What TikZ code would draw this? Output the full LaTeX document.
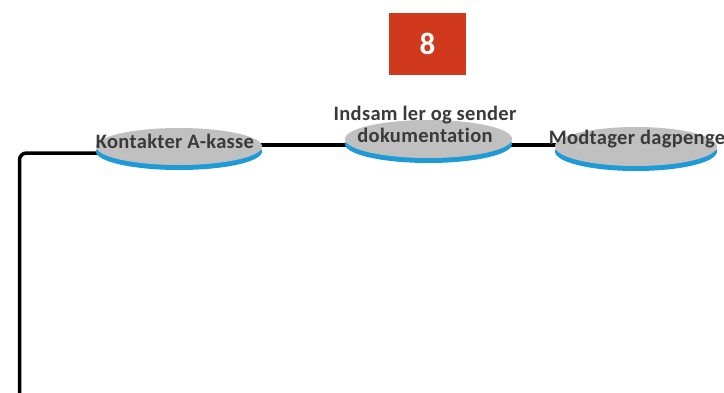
\documentclass[tikz,border=0pt]{standalone}
\usepackage{fontspec}
\setmainfont{Carlito}
\newfontfamily\ovalfont{Carlito}[LetterSpace=1.5, Ligatures=NoCommon]
\usetikzlibrary{shapes.geometric,backgrounds,calc}
\definecolor{boxred}{RGB}{208,57,27}
\definecolor{ovalgray}{RGB}{192,192,192}
\definecolor{ovalblue}{RGB}{30,154,214}
\definecolor{labelink}{RGB}{58,58,58}

\begin{document}
\begin{tikzpicture}[x=1pt,y=-1pt,
  oval/.style={ellipse, fill=ovalgray, inner sep=0pt,
    preaction={fill=ovalblue, transform canvas={yshift=-5pt}}},
  caption/.style={font=\ovalfont\fontsize{20.5}{22}\selectfont\bfseries, text=labelink,
    inner sep=0pt, anchor=base, align=center},
  link/.style={line width=3.5pt, black, rounded corners=7pt}]
\useasboundingbox (0,0) rectangle (724,392);

% step number
\node[fill=boxred, minimum width=77pt, minimum height=62pt, inner sep=0pt,
  text=white, font=\fontsize{31}{31}\selectfont\bfseries] (num) at (427.5,44) {8};

% process ovals
\node[oval, minimum width=166pt, minimum height=37pt] (e1) at (179,146.5) {};
\node[oval, minimum width=167pt, minimum height=38pt] (e2) at (428.5,139) {};
\node[oval, minimum width=162pt, minimum height=39pt] (e3) at (636,146.5) {};

% oval captions (base anchor sits on the last line)
\node[caption] (t1) at (175,148) {Kontakter A-kasse};
\node[caption] (t2) at (425,142) {Indsam ler og sender\\dokumentation};
\node[caption] (t3) at (637,144) {Modtager dagpenge};

% connectors
\coordinate (start) at (19.5,396);
\begin{scope}[on background layer]
  \draw[link] (start) |- ($(e1.west)+(12,6.5)$);
  \draw[link] ($(e1.east)+(-2,-1.5)$) -- ($(e2.west)+(2,6)$);
  \draw[link] ($(e2.east)+(-2,6)$) -- ($(e3.west)+(2,-1.5)$);
\end{scope}
\end{tikzpicture}
\end{document}
